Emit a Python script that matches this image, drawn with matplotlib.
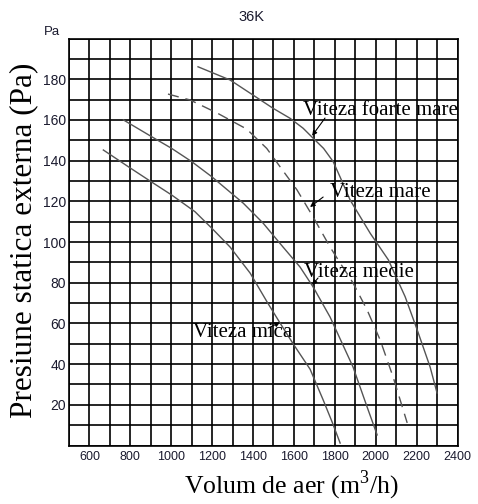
import numpy as np
import matplotlib
matplotlib.use("Agg")
import matplotlib.pyplot as plt

plt.rcParams['mathtext.fontset'] = 'custom'
plt.rcParams['mathtext.rm'] = 'Liberation Serif'

# curves (airflow m3/h, pressure Pa)
mica_x = [668, 790, 896, 1002, 1116, 1206, 1288, 1386, 1469, 1532, 1596, 1679, 1743, 1787, 1826]
mica_y = [145.2, 137, 130, 123.1, 114.9, 106, 97.5, 84.7, 70.5, 60.2, 50, 37.5, 22.4, 11.5, 1.2]

medie_x = [766, 905, 1002, 1100, 1198, 1353, 1449, 1547, 1630, 1694, 1777, 1889, 1958, 2007]
medie_y = [160, 151.7, 146, 139.5, 132.1, 119, 109.3, 97.5, 87.7, 77.9, 63.1, 38.6, 18.9, 5.2]

mare_x = [984, 1092, 1224, 1369, 1467, 1532, 1615, 1694, 1777, 1826, 1889, 1958, 2022, 2085, 2154]
mare_y = [172.7, 169.8, 163.4, 155.5, 146, 137, 125.6, 112.3, 97.5, 89.7, 79.9, 66.6, 51.8, 33.7, 11.1]

fmare_x = [1131, 1288, 1400, 1498, 1581, 1645, 1694, 1745, 1792, 1826, 1875, 1973, 2062, 2144, 2203, 2266, 2300]
fmare_y = [186.1, 179.6, 172.2, 165.7, 160.8, 155.9, 151.0, 146.0, 139.5, 131.9, 120.6, 104.3, 91.2, 73.1, 56.8, 38.6, 25.8]

labels = ['Viteza foarte mare', 'Viteza mare', 'Viteza medie', 'Viteza mica']
label_xy = [(1645, 164.5), (1777, 124.5), (1650, 85.2), (1107, 55.6)]
arrow_tail = [(1752, 160.9), (1743, 122.1), (1718, 82.3), (1474, 57.7)]
arrow_tip = [(1689, 152.2), (1679, 117.2), (1689, 78.9), (1532, 60.5)]

xticks = [600, 800, 1000, 1200, 1400, 1600, 1800, 2000, 2200, 2400]
yticks = [20, 40, 60, 80, 100, 120, 140, 160, 180]

fig = plt.figure(figsize=(4.78, 5.04), dpi=100)
ax = fig.add_axes([69/478, 1-445.5/504, (457.5-69)/478, (445.5-38.5)/504])

ax.set_xlim(500, 2400)
ax.set_ylim(0, 200)
ax.set_xticks(np.arange(500, 2401, 100), minor=True)
ax.set_yticks(np.arange(0, 201, 10), minor=True)
ax.set_xticks(xticks)
ax.set_yticks(yticks)
ax.grid(True, which='both', color='black', lw=1.2)
ax.set_axisbelow(True)
ax.tick_params(which='both', length=0)
ax.tick_params(axis='x', pad=4)
ax.tick_params(axis='y', pad=2)
tick_c = '#1a1a2e'
for lab in ax.get_xticklabels():
    lab.set_fontfamily('Liberation Sans')
    lab.set_fontsize(9)
    lab.set_color(tick_c)
for lab in ax.get_yticklabels():
    lab.set_fontfamily('Liberation Sans')
    lab.set_fontsize(10)
    lab.set_color(tick_c)
for s in ax.spines.values():
    s.set_color('black')
    s.set_linewidth(1.2)

line_c = '#555555'
ax.plot(mica_x, mica_y, color=line_c, lw=1.0)
ax.plot(medie_x, medie_y, color=line_c, lw=1.0)
ax.plot(mare_x, mare_y, color=line_c, lw=1.0, dashes=(8, 5))
ax.plot(fmare_x, fmare_y, color=line_c, lw=1.0)

for txt, pos, tail, tip in zip(labels, label_xy, arrow_tail, arrow_tip):
    ax.text(pos[0], pos[1], txt, ha='left', va='center',
            fontfamily='Liberation Serif', fontsize=15)
    ax.annotate('', xy=tip, xytext=tail,
                arrowprops=dict(arrowstyle='-|>', color='black', lw=0.8,
                                mutation_scale=7, shrinkA=0, shrinkB=0))

ax.set_xlabel('Volum de aer (m$^3$/h)', fontfamily='Liberation Serif',
              fontsize=18.5)
ax.xaxis.set_label_coords((291.5-69)/388.5, -(485-445.5)/407, transform=ax.transAxes)
ax.xaxis.label.set_va('center')
ax.set_ylabel('Presiune statica externa (Pa)', fontfamily='Liberation Serif',
              fontsize=22.5)
ax.yaxis.set_label_coords(-(69-24)/388.5, (445.5-240)/407, transform=ax.transAxes)
ax.yaxis.label.set_va('center')

fig.text(60/478, 1-38/504, 'Pa', ha='right', va='bottom',
         fontfamily='Liberation Sans', fontsize=9.5, color=tick_c)
fig.text(251/478, 1-17/504, '36K', ha='center', va='center',
         fontfamily='Liberation Sans', fontsize=10.5, color=tick_c)

fig.savefig('out.png', dpi=100)
